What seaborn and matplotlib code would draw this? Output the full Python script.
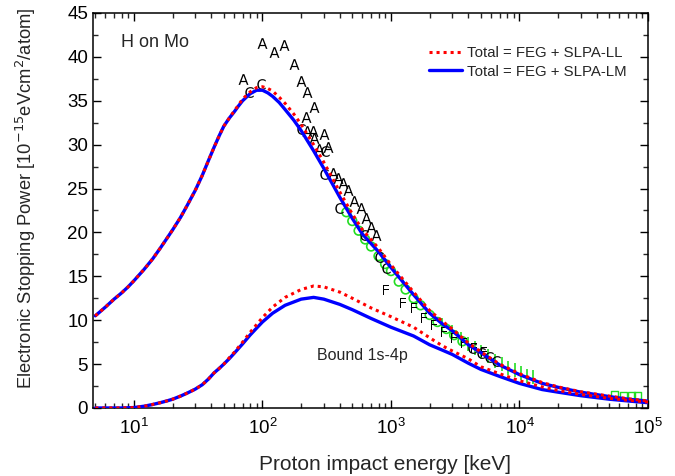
import matplotlib
matplotlib.use("Agg")
import matplotlib.pyplot as plt
import matplotlib.ticker as mticker
from matplotlib.lines import Line2D
import seaborn as sns

# Energy grid (keV) for the calculated curves
E_TOTAL = [5, 6, 7, 8, 9, 10, 12, 14, 16, 18, 20, 23, 26, 30, 34, 38, 42, 46, 50, 55, 60,
           65, 70, 80, 90, 100, 110, 120, 135, 150, 175, 200, 250, 300, 400, 500, 600,
           800, 1000, 1500, 2000, 2500, 3000, 4000, 5000, 7000, 10000, 15000, 20000,
           30000, 50000, 70000, 100000]
TOTAL_LM = [10.5, 11.5, 12.4, 13.1, 13.8, 14.5, 15.8, 17.0, 18.2, 19.3, 20.3, 21.7, 23.1,
            24.8, 26.5, 28.2, 29.7, 31.0, 32.1, 33.0, 33.7, 34.4, 35.0, 35.8, 36.2, 36.2,
            35.9, 35.5, 34.8, 34.0, 32.8, 31.6, 29.3, 27.3, 24.0, 21.6, 19.8, 17.8, 16.0,
            12.9, 10.8, 9.6, 8.8, 7.2, 6.3, 4.9, 3.8, 2.8, 2.35, 1.8, 1.3, 1.0, 0.78]
TOTAL_LL = [10.5, 11.5, 12.4, 13.1, 13.8, 14.5, 15.8, 17.0, 18.2, 19.3, 20.3, 21.7, 23.1,
            24.8, 26.5, 28.2, 29.7, 31.0, 32.1, 33.0, 33.8, 34.5, 35.2, 36.0, 36.5, 36.6,
            36.4, 36.1, 35.4, 34.7, 33.5, 32.3, 30.0, 28.0, 24.6, 22.1, 20.3, 18.2, 16.3,
            13.2, 11.1, 9.9, 9.0, 7.4, 6.4, 5.0, 3.9, 2.9, 2.4, 1.85, 1.35, 1.05, 0.8]

E_BOUND = [5, 8, 10, 12, 14, 16, 18, 20, 23, 26, 30, 34, 38, 42, 46, 50, 55, 60, 70, 80,
           90, 100, 120, 150, 200, 250, 300, 400, 500, 700, 1000, 1500, 2000, 2500, 3000,
           4000, 5000, 7000, 10000, 15000, 20000, 30000, 50000, 70000, 100000]
BOUND_LM = [0.0, 0.0, 0.05, 0.2, 0.4, 0.6, 0.8, 1.0, 1.35, 1.7, 2.15, 2.65, 3.3, 4.0, 4.5,
            5.0, 5.6, 6.2, 7.3, 8.3, 9.1, 9.8, 10.8, 11.7, 12.4, 12.6, 12.4, 11.8, 11.2,
            10.2, 9.2, 8.2, 7.2, 6.6, 6.1, 5.1, 4.4, 3.6, 2.8, 2.1, 1.8, 1.4, 1.0, 0.8, 0.6]
BOUND_LL = [0.0, 0.0, 0.05, 0.2, 0.4, 0.6, 0.8, 1.0, 1.35, 1.7, 2.15, 2.65, 3.3, 4.0, 4.5,
            5.0, 5.7, 6.3, 7.5, 8.6, 9.5, 10.3, 11.5, 12.6, 13.5, 13.9, 13.8, 13.2, 12.5,
            11.4, 10.4, 9.2, 8.0, 7.1, 6.5, 5.6, 4.7, 3.9, 3.1, 2.4, 2.0, 1.55, 1.1, 0.88,
            0.68]

# Experimental data sets (keV, 1e-15 eVcm2/atom)
A_E = [71, 100, 124, 146, 175, 198, 224, 251, 217, 246, 300, 322, 274, 352, 386, 422,
       461, 514, 583, 638, 698, 764, 224, 251]
A_S = [37.5, 41.6, 40.6, 41.4, 39.2, 37.2, 36.0, 34.3, 33.1, 31.6, 31.25, 29.7, 29.5,
       26.8, 26.25, 25.6, 24.8, 23.6, 22.8, 21.7, 20.6, 19.7, 31.6, 30.8]
C_E = [79, 98, 198, 300, 305, 392, 615, 806, 913, 4300, 5000, 5800, 6600]
C_S = [36.0, 36.9, 31.8, 26.7, 29.3, 22.8, 19.7, 17.2, 16.0, 6.8, 6.3, 5.8, 5.3]
F_E = [913, 1240, 1510, 1810, 2170, 2600, 3100, 3700, 4460, 5340]
F_S = [13.4, 12.0, 11.4, 10.3, 9.4, 8.6, 8.0, 7.4, 6.8, 6.4]
GO_E = [450, 500, 560, 630, 700, 800, 900, 1000, 1150, 1300, 1500, 1700, 2000, 2300,
        2700, 3100, 3600]
GO_S = [22.3, 21.3, 20.2, 19.2, 18.4, 17.3, 16.4, 15.6, 14.4, 13.5, 12.5, 11.7, 10.6,
        9.8, 9.0, 8.3, 7.6]
GI_E = [2500, 3000, 3500, 4000, 4500, 5000, 5700, 6500, 7300, 8200, 9200, 10300, 11500,
        12800]
GI_S = [9.4, 8.6, 7.9, 7.3, 6.8, 6.4, 5.9, 5.4, 5.0, 4.6, 4.3, 4.0, 3.7, 3.5]
GS_E = [55200, 64900, 75000, 83000]
GS_S = [1.5, 1.45, 1.45, 1.4]

sns.set_theme(style="ticks")
plt.rcParams['font.family'] = ['Liberation Sans', 'DejaVu Sans']
plt.rcParams['xtick.direction'] = 'in'
plt.rcParams['ytick.direction'] = 'in'
plt.rcParams['xtick.top'] = True
plt.rcParams['ytick.right'] = True

fig = plt.figure(figsize=(6.75, 4.76), dpi=100)
ax = fig.add_axes([0.1378, 0.1429, 0.8222, 0.8298])

green = '#22dd22'
# experimental points
sns.scatterplot(x=GO_E, y=GO_S, ax=ax, marker='o', s=40, facecolor='none',
                edgecolor=green, linewidth=1.2, zorder=2)
sns.scatterplot(x=GI_E, y=GI_S, ax=ax, marker='|', s=90, color=green,
                linewidth=1.2, zorder=2)
sns.scatterplot(x=GS_E, y=GS_S, ax=ax, marker='s', s=25, facecolor='none',
                edgecolor=green, linewidth=1.0, zorder=2)
sns.scatterplot(x=A_E, y=A_S, ax=ax, marker=r'$\mathrm{A}$', s=60, color='black',
                linewidth=0, zorder=2)
sns.scatterplot(x=C_E, y=C_S, ax=ax, marker=r'$\mathrm{C}$', s=60, color='black',
                linewidth=0, zorder=2)
sns.scatterplot(x=F_E, y=F_S, ax=ax, marker=r'$\mathrm{F}$', s=55, color='black',
                linewidth=0, zorder=2)

# calculated curves
sns.lineplot(x=E_TOTAL, y=TOTAL_LM, ax=ax, color='#0000ff', lw=2.4, zorder=3)
sns.lineplot(x=E_BOUND, y=BOUND_LM, ax=ax, color='#0000ff', lw=2.4, zorder=3)
sns.lineplot(x=E_TOTAL, y=TOTAL_LL, ax=ax, color='#ff0000', lw=2.2,
             linestyle=(0, (1, 1.3)), zorder=4)
sns.lineplot(x=E_BOUND, y=BOUND_LL, ax=ax, color='#ff0000', lw=2.2,
             linestyle=(0, (1, 1.3)), zorder=4)

ax.set_xscale('log')
ax.set_xlim(4.8, 1e5)
ax.set_ylim(0, 45)
ax.yaxis.set_major_locator(mticker.MultipleLocator(5))
ax.yaxis.set_minor_locator(mticker.MultipleLocator(2.5))
ax.xaxis.set_minor_locator(mticker.LogLocator(base=10, subs=range(2, 10), numticks=20))
ax.xaxis.set_minor_formatter(mticker.NullFormatter())
ax.tick_params(which='major', length=6, width=1, labelsize=13.5, colors='black')
ax.tick_params(which='minor', length=3.5, width=1)
ax.tick_params(axis='x', pad=7)
for sp in ax.spines.values():
    sp.set_linewidth(1.1)
    sp.set_color('black')

ax.set_xlabel("Proton impact energy [keV]", fontsize=15)
ax.set_ylabel(r"Electronic Stopping Power [10$^{-15}$eVcm$^{2}$/atom]", fontsize=13.2)
ax.xaxis.set_label_coords(0.526, -0.118)
ax.yaxis.set_label_coords(-0.1, 0.53)

ax.text(0.05, 0.925, "H on Mo", transform=ax.transAxes, fontsize=13, va='center')
ax.text(600, 6.0, "Bound 1s-4p", fontsize=11.5, ha='center', va='center')

handles = [Line2D([], [], color='#ff0000', lw=2.2, linestyle=(0, (1, 1.3))),
           Line2D([], [], color='#0000ff', lw=2.4)]
ax.legend(handles, ["Total = FEG + SLPA-LL", "Total = FEG + SLPA-LM"],
          loc='upper right', bbox_to_anchor=(0.985, 0.95), frameon=False,
          fontsize=10.8, handlelength=2.2, handletextpad=0.3, labelspacing=0.3)

fig.savefig("out.png", dpi=100)
